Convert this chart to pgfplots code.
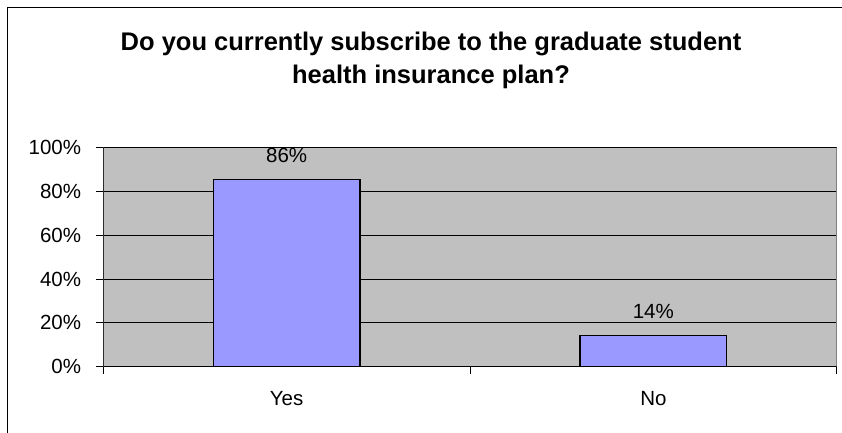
\documentclass[border=0pt]{standalone}
\usepackage{pgfplots}
\pgfplotsset{compat=1.18}
\usepackage{fontspec}
\setmainfont{Liberation Sans}
\definecolor{plotbg}{HTML}{C0C0C0}
\definecolor{barblue}{HTML}{9999FF}
\definecolor{framegray}{HTML}{808080}
\begin{document}
\begin{tikzpicture}[x=1pt,y=1pt]
\useasboundingbox (0,0) rectangle (842,433);
\fill[white] (0,0) rectangle (842,433);
\draw[line width=1.3pt] (7.3,-5) -- (7.3,425.7) -- (850,425.7);
\node[font=\fontsize{25.5}{30}\selectfont\bfseries, anchor=base, inner sep=0pt] at (431,382) {Do you currently subscribe to the graduate student};
\node[font=\fontsize{25.5}{30}\selectfont\bfseries, anchor=base, inner sep=0pt] at (431,349) {health insurance plan?};
\begin{axis}[
    at={(103.3pt,66.3pt)}, anchor=south west,
    scale only axis, width=733.4pt, height=219pt,
    ybar, bar width=0.4,
    xmin=-0.5, xmax=1.5, ymin=0, ymax=100,
    xtick={0,1}, xticklabels={Yes,No},
    extra x ticks={-0.5,0.5,1.5}, extra x tick labels={},
    extra x tick style={xtick style={draw=black, line width=1pt}},
    xtick style={draw=none},
    ytick={0,20,...,100}, yticklabels={0\%,20\%,40\%,60\%,80\%,100\%},
    xtick pos=bottom, ytick pos=left,
    tick align=outside, major tick length=7pt,
    ytick style={black, line width=1pt},
    ymajorgrids, grid style={black, line width=0.9pt},
    axis background/.style={fill=plotbg},
    axis line style={framegray, line width=1pt},
    ticklabel style={font=\fontsize{20.5}{24}\selectfont},
    yticklabel style={inner sep=0pt, xshift=-15pt},
    xticklabel style={anchor=base, inner sep=0pt, yshift=-32pt},
    nodes near coords={\pgfmathprintnumber[fixed,precision=0,assume math mode=true]{\pgfplotspointmeta}\%},
    every node near coord/.append style={anchor=base, inner sep=0pt, yshift=17pt, font=\fontsize{20.5}{24}\selectfont},
]
\addplot[fill=barblue, draw=black, line width=1.3pt] coordinates {(0,85.6) (1,14.4)};
\draw[black, line width=1.3pt] (rel axis cs:1,1) -- (rel axis cs:0,1) -- (rel axis cs:0,0) -- (rel axis cs:1,0);
\end{axis}
\end{tikzpicture}
\end{document}
